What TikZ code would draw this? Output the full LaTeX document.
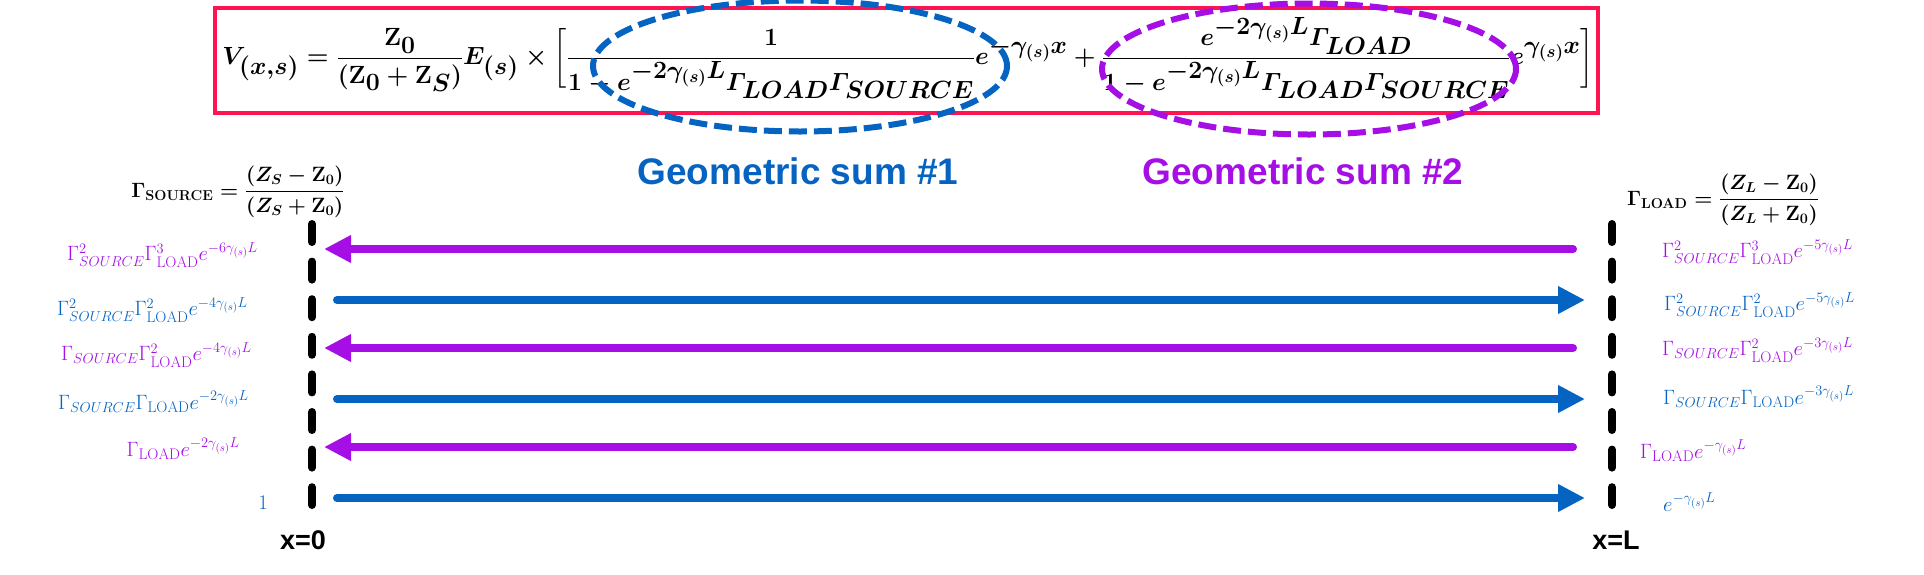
\documentclass[tikz,border=0pt]{standalone}
\usepackage{amsmath}
\usepackage{fontspec}
\newfontfamily\arialfont{Liberation Sans}
\usetikzlibrary{arrows.meta,shapes.geometric}
\definecolor{wblue}{HTML}{0563C1}
\definecolor{wpurple}{HTML}{A50FE6}
\definecolor{boxred}{HTML}{FF1452}
\newcommand{\denom}{1-e^{-2\gamma_{(s)}L}\varGamma_{LOAD}\varGamma_{SOURCE}}
\newcommand{\vformula}{$\displaystyle V_{(x,s)}=\frac{\mathbf{Z}_0}{(\mathbf{Z}_0+\mathbf{Z}_S)}E_{(s)}\times\bigg[\frac{1}{\denom}e^{-\gamma_{(s)}x}+\frac{e^{-2\gamma_{(s)}L}\varGamma_{LOAD}}{\denom}e^{\gamma_{(s)}x}\bigg]$}

\begin{document}
\begin{tikzpicture}[x=1pt,y=-1pt,
    fwd/.style={wblue,line width=8pt,line cap=round,-{Triangle[length=27pt,width=26pt]}},
    bwd/.style={wpurple,line width=8pt,line cap=round,-{Triangle[length=27pt,width=26pt]}},
    port/.style={line width=8pt,line cap=round,dash pattern=on 18pt off 19.6pt},
    ring/.style={ellipse,line width=6pt,dash pattern=on 18pt off 7pt,minimum width=414pt,minimum height=131pt},
    term/.style={font=\fontsize{22}{26}\selectfont,inner sep=0pt},
    gam/.style={font=\fontsize{20}{24}\selectfont\boldmath,inner sep=0pt},
    sumtext/.style={font=\arialfont\bfseries\fontsize{37}{44}\selectfont,inner sep=0pt},
    ends/.style={font=\arialfont\bfseries\fontsize{27}{32}\selectfont,inner sep=0pt}]
\useasboundingbox (0,0) rectangle (1924,574);

% voltage along the line
\draw[boxred,line width=4.5pt] (215,8) rectangle (1598,113);
\node[font=\fontsize{33}{40}\selectfont\boldmath,inner sep=0pt] (volt) at (908,58) {\vformula};
\node[ring,draw=wblue] (ring1) at (800,66) {};
\node[ring,draw=wpurple] (ring2) at (1309,69) {};
\node[sumtext,wblue] (sum1) at (798,171) {Geometric sum \#1};
\node[sumtext,wpurple] (sum2) at (1303,171) {Geometric sum \#2};

% reflection coefficients
\node[gam] (gsrc) at (238,192) {$\Gamma_{\mathbf{SOURCE}}=\dfrac{(Z_S-\mathbf{Z}_0)}{(Z_S+\mathbf{Z}_0)}$};
\node[gam] (gload) at (1723,200) {$\Gamma_{\mathbf{LOAD}}=\dfrac{(Z_L-\mathbf{Z}_0)}{(Z_L+\mathbf{Z}_0)}$};

% ends of the line
\coordinate (src top) at (312,224);
\coordinate (src bot) at (312,505);
\coordinate (load top) at (1612,224);
\coordinate (load bot) at (1612,505);
\draw[port] (src top) -- (src bot);
\draw[port] (load top) -- (load bot);
\node[ends] (x0) at (303,540) {x=0};
\node[ends] (xL) at (1616,540) {x=L};

% bouncing waves
\foreach \y/\n in {249/1,348/3,447/5}{
  \coordinate (from\n) at (1573,\y);
  \coordinate (to\n) at (324,\y);
  \draw[bwd] (from\n) -- (to\n);
}
\foreach \y/\n in {300/2,399/4,498/6}{
  \coordinate (from\n) at (337,\y);
  \coordinate (to\n) at (1585,\y);
  \draw[fwd] (from\n) -- (to\n);
}

% terms at x=0
\node[term,wpurple,anchor=east] (s1) at (258,255) {$\Gamma^2_{SOURCE}\Gamma^3_{\mathrm{LOAD}}e^{-6\gamma_{(s)}L}$};
\node[term,wblue,anchor=east] (s2) at (248,310) {$\Gamma^2_{SOURCE}\Gamma^2_{\mathrm{LOAD}}e^{-4\gamma_{(s)}L}$};
\node[term,wpurple,anchor=east] (s3) at (252,355) {$\Gamma_{SOURCE}\Gamma^2_{\mathrm{LOAD}}e^{-4\gamma_{(s)}L}$};
\node[term,wblue,anchor=east] (s4) at (249,402) {$\Gamma_{SOURCE}\Gamma_{\mathrm{LOAD}}e^{-2\gamma_{(s)}L}$};
\node[term,wpurple,anchor=east] (s5) at (240,449) {$\Gamma_{\mathrm{LOAD}}e^{-2\gamma_{(s)}L}$};
\node[term,wblue,anchor=east] (s6) at (268,503) {$1$};

% terms at x=L
\node[term,wpurple,anchor=west] (l1) at (1662,252) {$\Gamma^2_{SOURCE}\Gamma^3_{\mathrm{LOAD}}e^{-5\gamma_{(s)}L}$};
\node[term,wblue,anchor=west] (l2) at (1664,305) {$\Gamma^2_{SOURCE}\Gamma^2_{\mathrm{LOAD}}e^{-5\gamma_{(s)}L}$};
\node[term,wpurple,anchor=west] (l3) at (1662,350) {$\Gamma_{SOURCE}\Gamma^2_{\mathrm{LOAD}}e^{-3\gamma_{(s)}L}$};
\node[term,wblue,anchor=west] (l4) at (1663,397) {$\Gamma_{SOURCE}\Gamma_{\mathrm{LOAD}}e^{-3\gamma_{(s)}L}$};
\node[term,wpurple,anchor=west] (l5) at (1640,451) {$\Gamma_{\mathrm{LOAD}}e^{-\gamma_{(s)}L}$};
\node[term,wblue,anchor=west] (l6) at (1663,502) {$e^{-\gamma_{(s)}L}$};
\end{tikzpicture}
\end{document}
